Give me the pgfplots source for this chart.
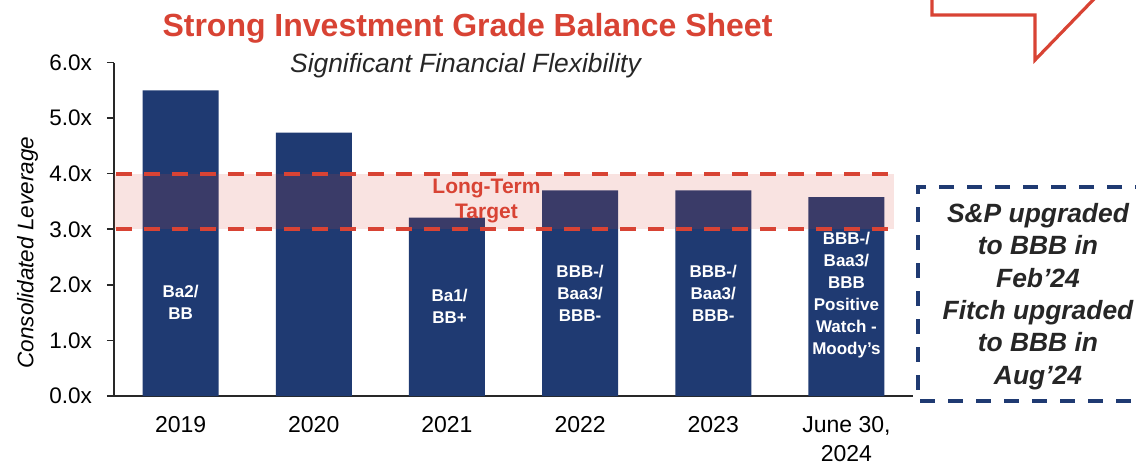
\documentclass[border=0pt]{standalone}
\usepackage{fontspec}
\setmainfont{Liberation Sans}
\usepackage{pgfplots}
\pgfplotsset{compat=1.18}
\definecolor{navy}{RGB}{31,58,114}
\definecolor{cred}{RGB}{216,67,52}
\definecolor{axgray}{RGB}{40,40,40}
\begin{document}
\begin{tikzpicture}
\useasboundingbox (-57pt,-33pt) rectangle (511pt,198pt);
\begin{axis}[
  at={(0,0)}, anchor=south west,
  scale only axis, width=399.5pt, height=166.75pt,
  xmin=-0.5, xmax=5.5, ymin=0, ymax=6,
  axis x line*=bottom, axis y line*=left,
  axis line style={draw=axgray, line width=0.8pt, -},
  ybar, bar width=38pt,
  xtick={0,...,5}, xticklabels={2019,2020,2021,2022,2023,{June 30,\\2024}},
  xticklabel style={align=center, font=\fontsize{11.5}{14.3}\selectfont, text=black, yshift=-3.2pt},
  x tick style={draw=none},
  ytick={0,...,6}, yticklabels={0.0x,1.0x,2.0x,3.0x,4.0x,5.0x,6.0x},
  yticklabel style={font=\fontsize{11.25}{13}\selectfont, text=black, xshift=-4pt},
  y tick style={draw=axgray, line width=0.8pt},
  tick align=outside, major tick length=3.5pt,
  ylabel={Consolidated Leverage},
  ylabel style={font=\fontsize{11.25}{13}\selectfont\itshape, at={(axis description cs:0,0.43)}, anchor=south, yshift=34.5pt},
  clip=false,
]
\addplot[fill=navy, draw=none] coordinates {(0,5.50) (1,4.74) (2,3.21) (3,3.70) (4,3.70) (5,3.58)};
\fill[cred, opacity=0.15] (axis cs:-0.5,3) rectangle (axis cs:5.354,4);
\draw[cred, line width=2pt, dash pattern=on 8pt off 6pt] (axis cs:-0.485,3) -- (axis cs:5.31,3);
\draw[cred, line width=2pt, dash pattern=on 8pt off 6pt] (axis cs:-0.485,4) -- (axis cs:5.31,4);
\node[text=cred, font=\bfseries\fontsize{10.5}{12.5}\selectfont, align=center] at (axis cs:2.297,3.50) {Long-Term\\Target};
\begin{scope}[every node/.style={text=white, font=\bfseries\fontsize{8.5}{11}\selectfont, align=center}]
\node at (axis cs:0,1.69) {Ba2/\\BB};
\node at (axis cs:2.02,1.62) {Ba1/\\BB+};
\node at (axis cs:3,1.85) {BBB-/\\Baa3/\\BBB-};
\node at (axis cs:4,1.85) {BBB-/\\Baa3/\\BBB-};
\node at (axis cs:5,1.81) {BBB-/\\Baa3/\\BBB\\Positive\\Watch -\\Moody’s};
\end{scope}
\end{axis}
\begin{scope}[x=0.5pt,y=-0.5pt,shift={(-57pt,198pt)}]
\node[anchor=base, text=cred, font=\bfseries\fontsize{16}{19}\selectfont] at (467.5,36) {Strong Investment Grade Balance Sheet};
\node[anchor=base, text=black!85, font=\itshape\fontsize{13.2}{16}\selectfont] at (465.5,72) {Significant Financial Flexibility};
\draw[navy, line width=2pt, dash pattern=on 7.5pt off 6.5pt] (1150,187) -- (918,187) -- (918,401) -- (1150,401);
\node[text=black!85, font=\bfseries\itshape\fontsize{13.2}{16.2}\selectfont, align=center] at (1038,296.5) {S\&P upgraded\\to BBB in\\Feb’24\\Fitch upgraded\\to BBB in\\Aug’24};
\draw[cred, line width=1.6pt] (932,-10) -- (932,15) -- (1035,15) -- (1035,60) -- (1102.7,-10);
\end{scope}
\end{tikzpicture}
\end{document}
